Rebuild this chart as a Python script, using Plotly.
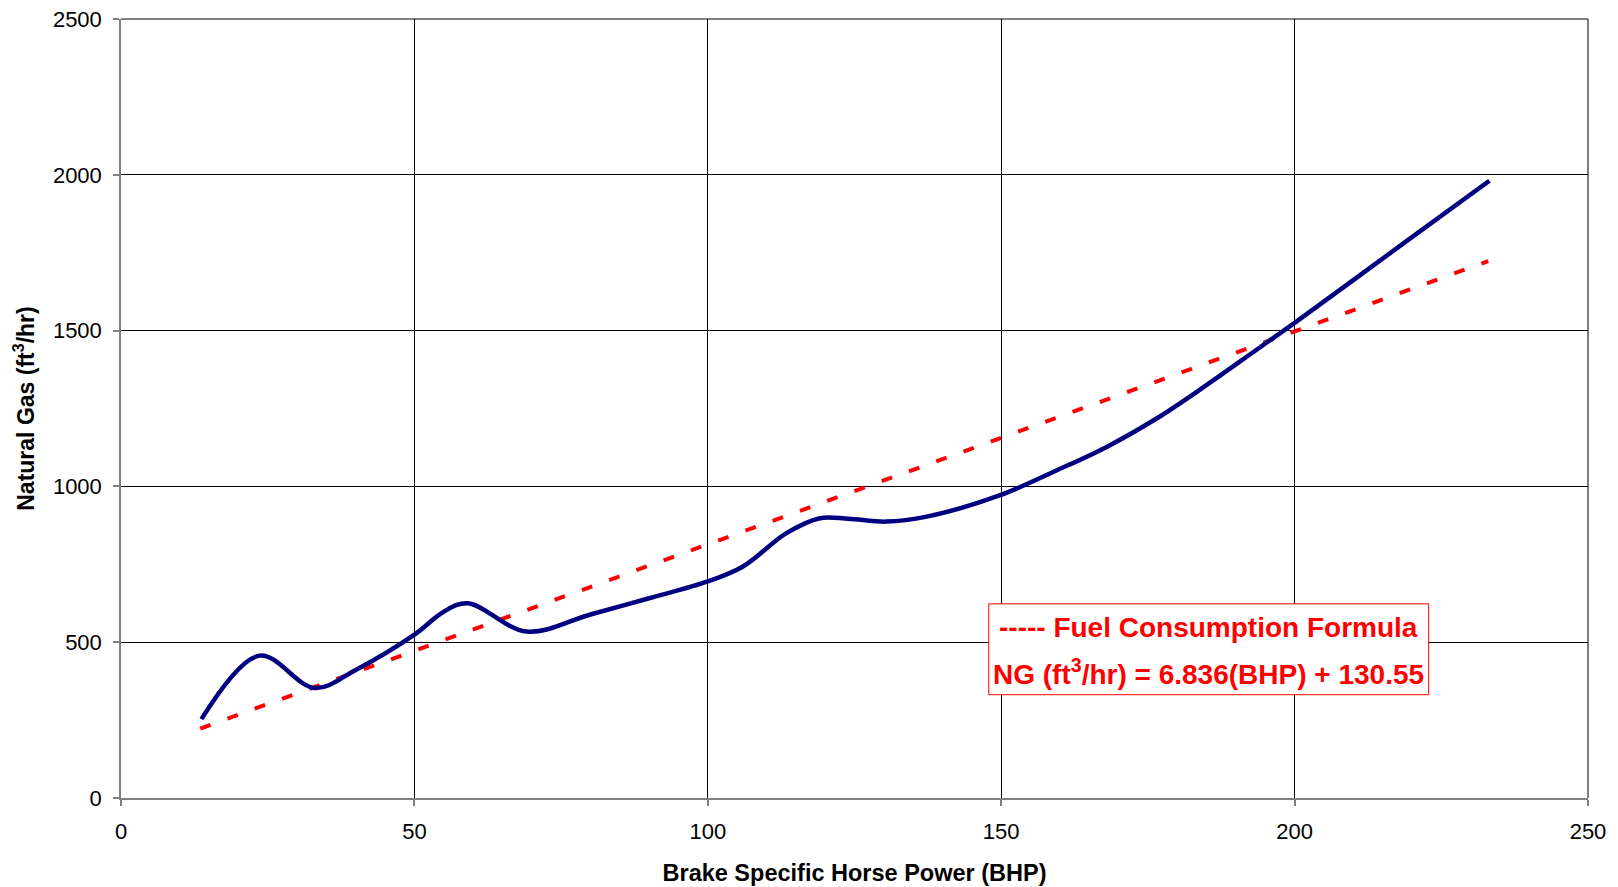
import plotly.graph_objects as go

# Measured natural gas consumption curve (smoothed line)
bhp = [13.7, 23.6, 33.0, 40, 50, 55, 59.1, 69.1, 80, 90, 100, 106, 113.4,
       119.1, 124, 130.4, 137.3, 149.7, 159.4, 167.9, 176.4, 184.9, 193.4, 200, 210,
       220, 233.2]
ng = [253, 457, 353, 411, 524, 598, 625, 534, 589, 641, 695, 743, 850,
      898, 896, 887, 903, 971, 1051, 1126, 1217, 1324, 1437, 1525, 1662, 1800, 1981]

# Fuel consumption formula line endpoints
formula_bhp = [13.5, 233]
formula_ng = [223, 1723]

x_ticks = [0, 50, 100, 150, 200, 250]
y_ticks = [0, 500, 1000, 1500, 2000, 2500]

FONT = "Liberation Sans, Arial, sans-serif"

fig = go.Figure()
fig.add_trace(go.Scatter(
    x=formula_bhp, y=formula_ng, mode="lines",
    line=dict(color="#FF0000", width=4, dash="11px,18px"),
    showlegend=False, hoverinfo="skip"))
fig.add_trace(go.Scatter(
    x=bhp, y=ng, mode="lines",
    line=dict(color="#000080", width=4.5, shape="spline", smoothing=1.0),
    showlegend=False))

# top and right frame lines (black, like the grid)
fig.add_shape(type="line", xref="paper", yref="paper", x0=0, x1=1, y0=1, y1=1,
              line=dict(color="#000000", width=1), layer="below")
fig.add_shape(type="line", xref="paper", yref="paper", x0=1, x1=1, y0=0, y1=1,
              line=dict(color="#000000", width=1), layer="below")

fig.add_shape(type="rect", xref="paper", yref="paper",
              x0=0.5915, x1=0.8914, y0=0.1326, y1=0.2492,
              line=dict(color="#FF0000", width=1), fillcolor="white", layer="above")
fig.add_annotation(xref="paper", yref="paper", x=0.7415, y=0.2184,
                   text="<b>----- Fuel Consumption Formula</b>", showarrow=False,
                   font=dict(family=FONT, size=28, color="#FF0000"),
                   xanchor="center", yanchor="middle")
fig.add_annotation(xref="paper", yref="paper", x=0.7415, y=0.162,
                   text="<b>NG (ft<sup>3</sup>/hr) = 6.836(BHP) + 130.55</b>", showarrow=False,
                   font=dict(family=FONT, size=28, color="#FF0000"),
                   xanchor="center", yanchor="middle")

axis_common = dict(
    showgrid=True, gridcolor="#000000", gridwidth=1,
    showline=True, linecolor="#808080", linewidth=1.5,
    ticks="outside", ticklen=6, tickcolor="#808080", tickwidth=1.5,
    zeroline=False, automargin=False,
    tickfont=dict(family=FONT, size=22, color="#000000"),
)

fig.update_layout(
    template="none",
    width=1618, height=887,
    margin=dict(l=121, r=30, t=19, b=89),
    paper_bgcolor="white", plot_bgcolor="white",
    font=dict(family=FONT, color="#000000"),
    xaxis=dict(range=[0, 250], tickvals=x_ticks, ticklabelstandoff=7,
               title=dict(text="<b>Brake Specific Horse Power (BHP)</b>",
                          font=dict(family=FONT, size=23.5), standoff=21),
               **axis_common),
    yaxis=dict(range=[0, 2500], tickvals=y_ticks, ticklabelstandoff=7,
               title=dict(text="<b>Natural Gas (ft<sup>3</sup>/hr)</b>",
                          font=dict(family=FONT, size=23), standoff=12),
               **axis_common),
)

fig.write_html("out.html", config={"displayModeBar": False},
               post_script="document.body.style.margin='0';document.body.style.overflow='hidden';")
